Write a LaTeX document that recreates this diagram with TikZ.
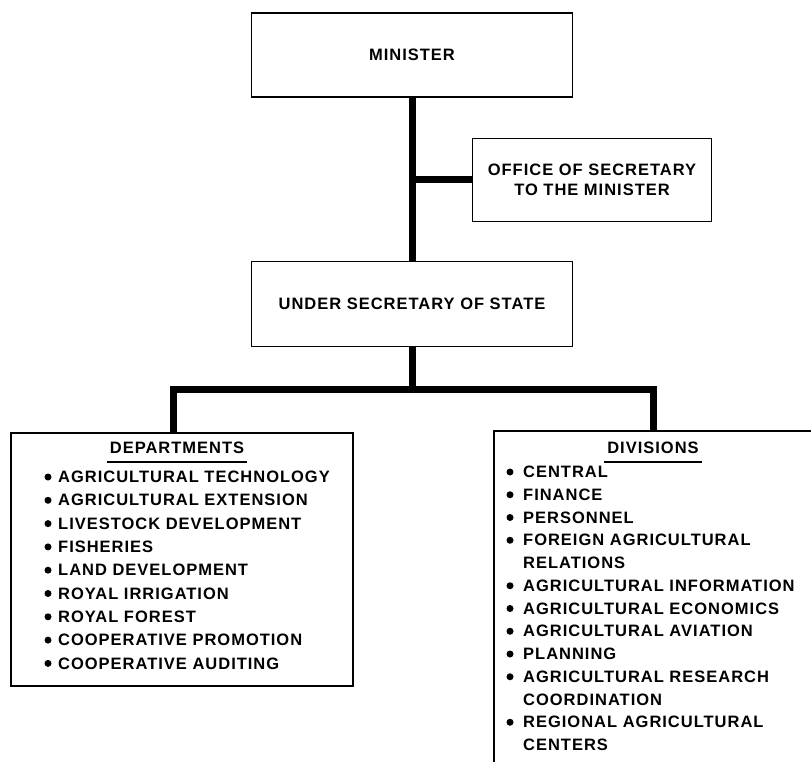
\documentclass[tikz,border=0pt]{standalone}
\usepackage{fontspec}
\setmainfont{Liberation Sans}[LetterSpace=6]

\begin{document}
\begin{tikzpicture}[x=1pt,y=-1pt,
    every node/.style={font=\fontsize{16.5}{20}\selectfont\bfseries},
    box/.style={draw,line width=1.6pt,inner sep=0pt},
    link/.style={line width=7pt},
    item/.style={anchor=west,inner sep=0pt},
    dot/.style={circle,fill,inner sep=0pt,minimum size=7pt}]
    \useasboundingbox (0,0) rectangle (811,762);
    \clip (0,0) rectangle (811,762);
    \node [box,minimum width=321,minimum height=84] (minister) at (412,55) {MINISTER};
    \node [box,minimum width=239,minimum height=83,align=center] (office) at (592,180) {OFFICE OF SECRETARY\\TO THE MINISTER};
    \node [box,minimum width=321,minimum height=85] (under) at (412,304) {UNDER SECRETARY OF STATE};
    \node [box,minimum width=342,minimum height=253,anchor=north west] (depts) at (10,432) {};
    \node [box,minimum width=330,minimum height=360,anchor=north west] (divs) at (493,430) {};
    \coordinate (split) at (412,389);
    \coordinate (dtop) at (173,432);
    \coordinate (vtop) at (653,430);
    \draw [link] (minister.south) -- (under.north);
    \draw [link] (office.west) -- (office.west -| minister.south);
    \draw [link] (under.south) -- (split);
    \draw [link] (dtop) |- (split) -| (vtop);
    \node [inner sep=0pt] (depthead) at (177,448) {DEPARTMENTS};
    \draw [line width=1.2pt] ([xshift=-3pt,yshift=-8pt]depthead.south west) -- ([xshift=3pt,yshift=-8pt]depthead.south east);
    \node [inner sep=0pt] (divhead) at (653,448) {DIVISIONS};
    \draw [line width=1.2pt] ([xshift=-3pt,yshift=-8pt]divhead.south west) -- ([xshift=3pt,yshift=-8pt]divhead.south east);
    \foreach \t [count=\i] in {AGRICULTURAL TECHNOLOGY,AGRICULTURAL EXTENSION,LIVESTOCK DEVELOPMENT,FISHERIES,LAND DEVELOPMENT,ROYAL IRRIGATION,ROYAL FOREST,COOPERATIVE PROMOTION,COOPERATIVE AUDITING} {
        \node [dot] (deptdot\i) at (48,{477+(\i-1)*23.3}) {};
        \node [item] (dept\i) at (58,{477+(\i-1)*23.3}) {\t};
    }
    \foreach \t/\b [count=\i] in {CENTRAL/1,FINANCE/1,PERSONNEL/1,FOREIGN AGRICULTURAL/1,RELATIONS/0,AGRICULTURAL INFORMATION/1,AGRICULTURAL ECONOMICS/1,AGRICULTURAL AVIATION/1,PLANNING/1,AGRICULTURAL RESEARCH/1,COORDINATION/0,REGIONAL AGRICULTURAL/1,CENTERS/0} {
        \ifnum\b=1 \node [dot] (divdot\i) at (510,{472+(\i-1)*22.75}) {}; \fi
        \node [item] (div\i) at (523,{472+(\i-1)*22.75}) {\t};
    }
\end{tikzpicture}
\end{document}
